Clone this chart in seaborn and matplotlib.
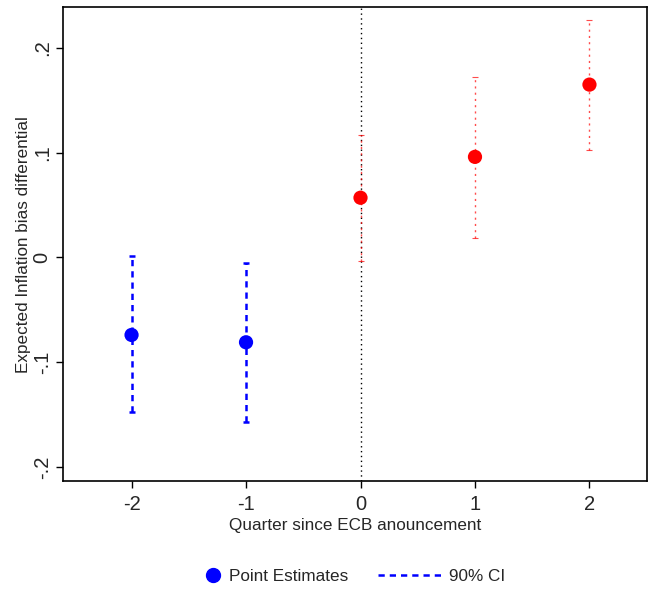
import numpy as np
import pandas as pd
import matplotlib
matplotlib.use("Agg")
import matplotlib.pyplot as plt
import seaborn as sns
from matplotlib.lines import Line2D

# values
quarters = [-2, -1, 0, 1, 2]
estimates = [-0.074, -0.081, 0.057, 0.096, 0.165]
ci_low = [-0.148, -0.157, -0.003, 0.019, 0.103]
ci_high = [0.001, -0.005, 0.117, 0.172, 0.227]
periods = ["pre", "pre", "post", "post", "post"]

xtick_labels = ["-2", "-1", "0", "1", "2"]
ytick_values = [-0.2, -0.1, 0.0, 0.1, 0.2]
ytick_labels = ["-.2", "-.1", "0", ".1", ".2"]

df = pd.DataFrame({
    "quarter": quarters,
    "estimate": estimates,
    "lo": ci_low,
    "hi": ci_high,
    "period": periods,
})

sns.set_theme(style="white")
plt.rcParams["font.family"] = ["Liberation Sans", "DejaVu Sans"]

fig = plt.figure(figsize=(6.48, 5.91), dpi=100)
ax = fig.add_axes([0.097, 0.186, 0.901, 0.802])

# reference line at announcement
ax.axvline(0, color="black", ls=(0, (1, 2.5)), lw=1.0, zorder=1)

# confidence intervals
pre = df[df["period"] == "pre"]
post = df[df["period"] == "post"]
eb = ax.errorbar(pre["quarter"], (pre["lo"] + pre["hi"]) / 2,
                 yerr=(pre["hi"] - pre["lo"]) / 2, fmt="none",
                 ecolor="blue", elinewidth=1.8, capsize=2.5, capthick=1.8, zorder=2)
eb[2][0].set_linestyle((0, (2.5, 2)))
eb2 = ax.errorbar(post["quarter"], (post["lo"] + post["hi"]) / 2,
                  yerr=(post["hi"] - post["lo"]) / 2, fmt="none",
                  ecolor="red", elinewidth=1.0, capsize=2, capthick=0.8,
                  alpha=0.7, zorder=2)
eb2[2][0].set_linestyle((0, (1.5, 3)))

# point estimates
sns.scatterplot(data=df, x="quarter", y="estimate", hue="period",
                palette={"pre": "blue", "post": "red"}, s=105,
                edgecolor="none", legend=False, zorder=3, ax=ax)

ax.set_xlim(-2.6, 2.5)
ax.set_ylim(-0.2135, 0.239)
ax.set_xticks(quarters)
ax.set_xticklabels(xtick_labels, fontsize=14.5)
ax.set_yticks(ytick_values)
ax.set_yticklabels(ytick_labels, fontsize=14.5, rotation=90, va="center")
ax.tick_params(axis="x", direction="out", length=5, width=1, color="black",
               bottom=True, pad=5)
ax.tick_params(axis="y", direction="out", length=5, width=1, color="black",
               left=True, pad=3)
ax.set_xlabel("Quarter since ECB anouncement", fontsize=12.3, labelpad=3)
ax.set_ylabel("Expected Inflation bias differential", fontsize=12.3, labelpad=1)
for sp in ax.spines.values():
    sp.set_color("black")
    sp.set_linewidth(1.2)

# legend below, as two pieces so the marker handle stays short
fw = 648.0
leg1 = fig.legend([Line2D([], [], marker="o", color="blue", ls="none", markersize=10)],
                  ["Point Estimates"], loc="center left",
                  bbox_to_anchor=(204 / fw, 0.025), frameon=False, fontsize=12.3,
                  handlelength=1, handletextpad=0.44, borderpad=0, borderaxespad=0)
leg2 = fig.legend([Line2D([], [], color="blue", ls=(0, (2.5, 2)), lw=1.8)],
                  ["90% CI"], loc="center left",
                  bbox_to_anchor=(378 / fw, 0.025), frameon=False, fontsize=12.3,
                  handlelength=3.7, handletextpad=0.46, borderpad=0, borderaxespad=0)

fig.savefig("out.png", dpi=100)
